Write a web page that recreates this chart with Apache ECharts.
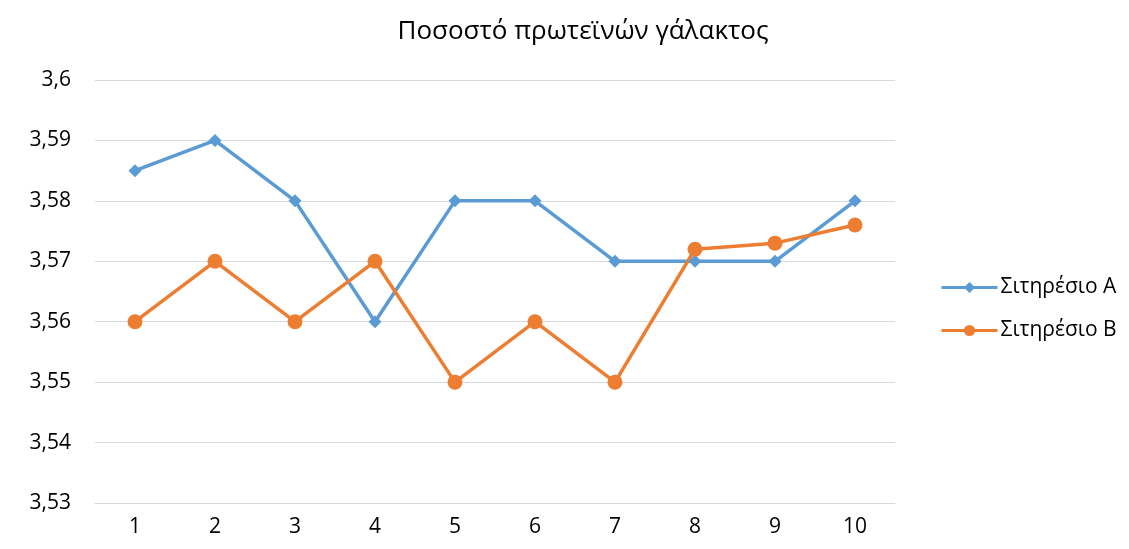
<!DOCTYPE html>
<html><head><meta charset="utf-8">
<script src="https://cdn.jsdelivr.net/npm/echarts@6/dist/echarts.min.js"></script>
<style>html,body{margin:0;padding:0;background:#fff}#c{width:1129px;height:549px}</style>
</head><body><div id="c"></div>
<script>
const categories = ['1','2','3','4','5','6','7','8','9','10'];
const seriesA = [3.585, 3.59, 3.58, 3.56, 3.58, 3.58, 3.57, 3.57, 3.57, 3.58];
const seriesB = [3.56, 3.57, 3.56, 3.57, 3.55, 3.56, 3.55, 3.572, 3.573, 3.576];
const nameA = 'Σιτηρέσιο Α';
const nameB = 'Σιτηρέσιο Β';
const title = 'Ποσοστό πρωτεϊνών γάλακτος';
const font = '"Open Sans", "Noto Sans", sans-serif';
const chart = echarts.init(document.getElementById('c'), null, {renderer:'canvas'});
chart.setOption({
  animation:false,
  title:{text:title, left:578, top:14, textAlign:'center', textStyle:{fontFamily:font, fontSize:26, fontWeight:'normal', color:'#000'}},
  legend:{orient:'vertical', left:935, top:272, itemGap:22, itemWidth:56, itemHeight:14,
    lineStyle:{width:3},
    textStyle:{fontFamily:font, fontSize:21, color:'#000', padding:[0,0,0,-2]},
    data:[nameA, nameB]},
  grid:{left:95, right:234, top:80, bottom:46},
  xAxis:{type:'category', data:categories, boundaryGap:true,
    axisLine:{lineStyle:{color:'#d9d9d9', width:1}}, axisTick:{show:false},
    axisLabel:{fontFamily:font, fontSize:21, color:'#000', margin:14}},
  yAxis:{type:'value', min:3.53, max:3.6, interval:0.01,
    axisLine:{show:false}, axisTick:{show:false},
    splitLine:{lineStyle:{color:'#d9d9d9', width:1}},
    axisLabel:{fontFamily:font, fontSize:21, color:'#000', margin:24,
      formatter:v=>String(Math.round(v*100)/100).replace('.',',')}},
  series:[
    {name:nameA, type:'line', data:seriesA, symbol:'diamond', symbolSize:13,
      lineStyle:{color:'#5B9BD5', width:3.5}, itemStyle:{color:'#5B9BD5'}},
    {name:nameB, type:'line', data:seriesB, symbol:'circle', symbolSize:15,
      lineStyle:{color:'#ED7D31', width:3.5}, itemStyle:{color:'#ED7D31'}}
  ]
});
</script></body></html>
